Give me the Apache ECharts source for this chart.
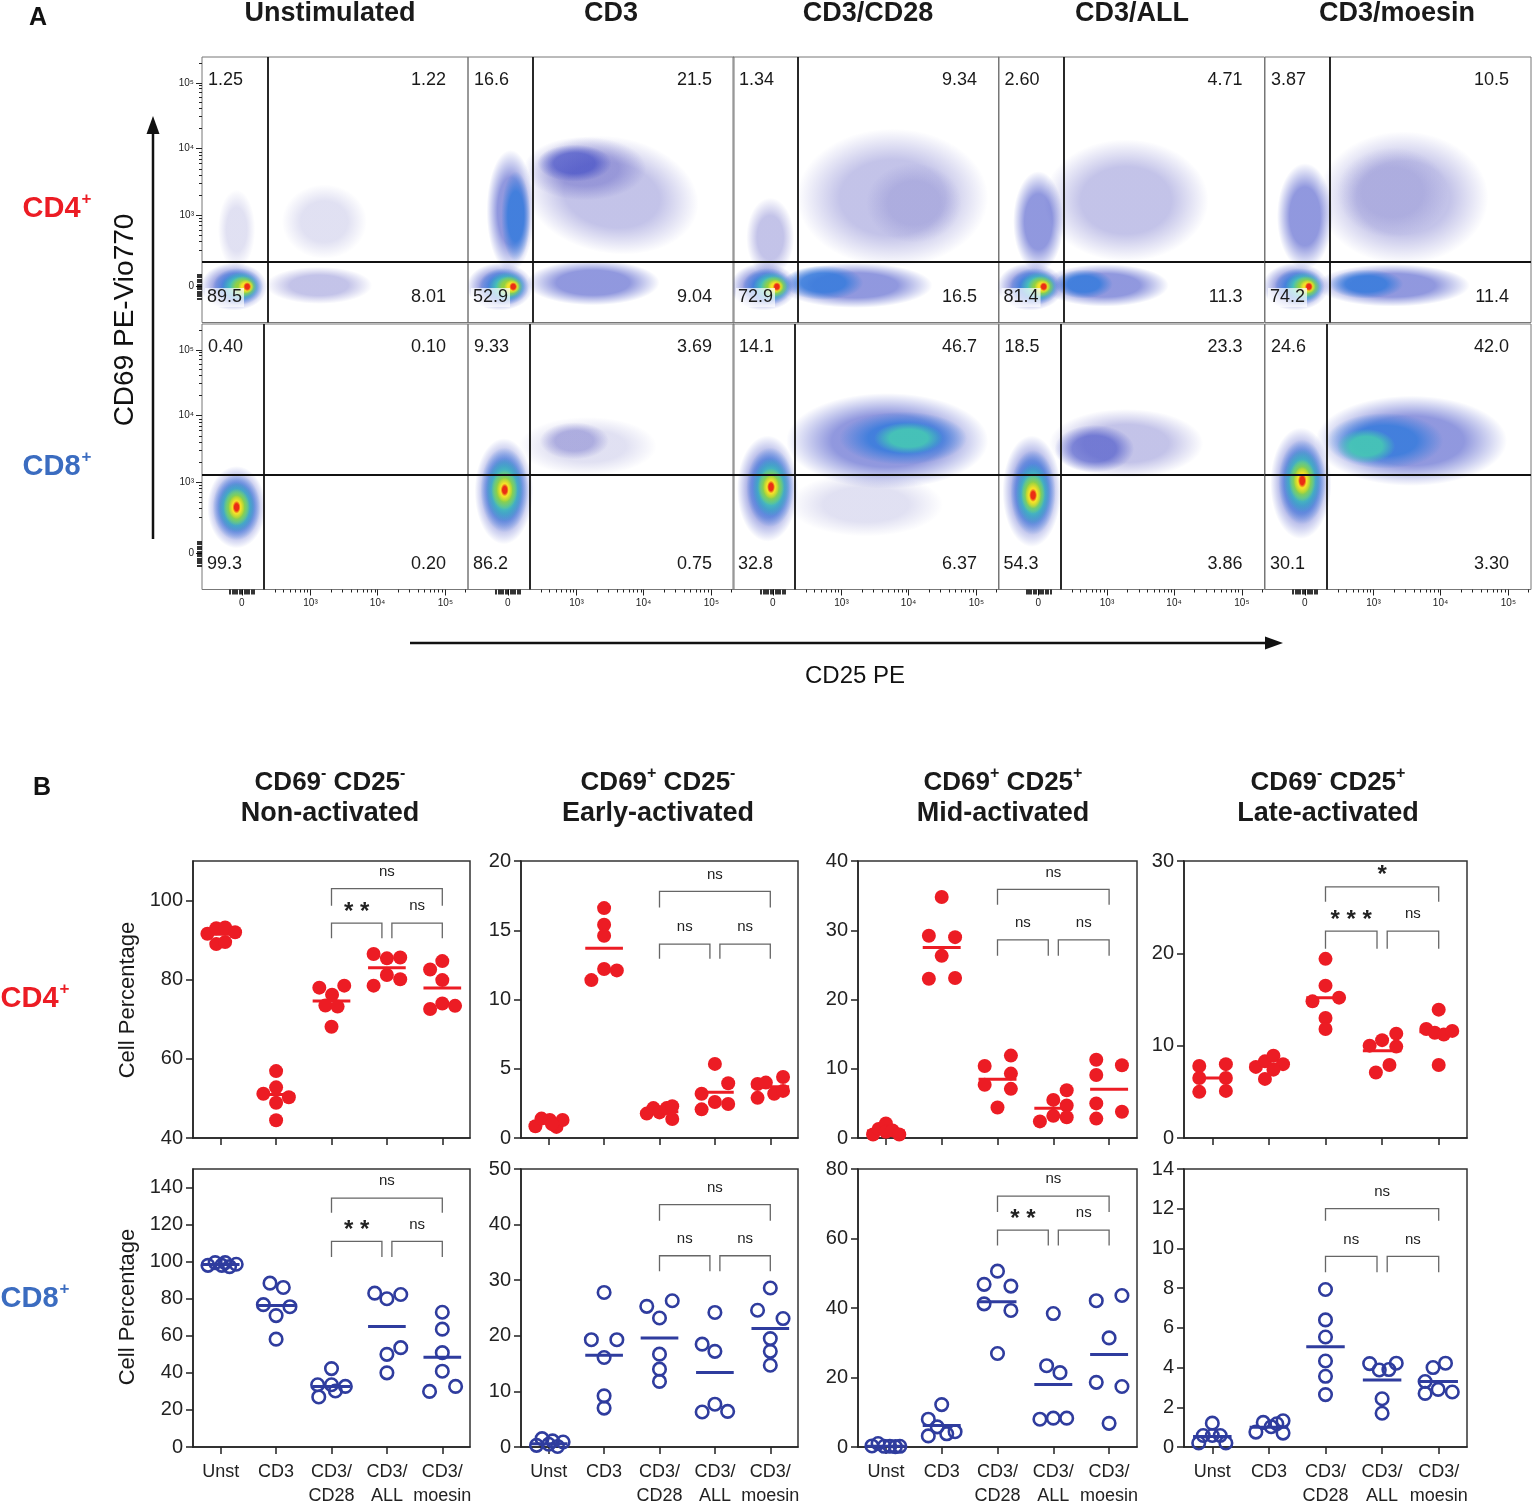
<!DOCTYPE html>
<html>
<head>
<meta charset="utf-8">
<title>CD69 / CD25 activation</title>
<script src="https://cdn.jsdelivr.net/npm/echarts@6.0.0/dist/echarts.min.js"></script>
<style>
html, body { margin: 0; padding: 0; background: #fff; }
#chart { width: 1535px; height: 1512px; }
</style>
</head>
<body>
<div id="chart"></div>
<script>
// ===== A: flow plots, axes in display units 0-100 =====
var stimNames = ['Unstimulated', 'CD3', 'CD3/CD28', 'CD3/ALL', 'CD3/moesin'];
var flowTickLabels = ['0', '10³', '10⁴', '10⁵'];
var flowXTicks = [15, 40.8, 66, 91.5];
var flowYTicks = [13.5, 40.4, 65.6, 90.3];

// quadrant percentages [UL, UR, LL, LR]
var quadCD4 = [['1.25', '1.22', '89.5', '8.01'], ['16.6', '21.5', '52.9', '9.04'], ['1.34', '9.34', '72.9', '16.5'], ['2.60', '4.71', '81.4', '11.3'], ['3.87', '10.5', '74.2', '11.4']];
var quadCD8 = [['0.40', '0.10', '99.3', '0.20'], ['9.33', '3.69', '86.2', '0.75'], ['14.1', '46.7', '32.8', '6.37'], ['18.5', '23.3', '54.3', '3.86'], ['24.6', '42.0', '30.1', '3.30']];

// gate [x, y]
var gateCD4 = [[24.6, 22.7], [24.5, 22.7], [24.4, 22.7], [24.5, 22.7], [24.3, 22.7]];
var gateCD8 = [[23.2, 43.3], [23.4, 43.3], [23.4, 43.3], [23.5, 43.3], [23.1, 43.3]];

// populations: [x, y, rx, ry, density level 0-7, tilt deg]
var popCD4 = [
  [[13, 35, 7, 15, 0, 0], [44, 14, 20, 7, 1, 0], [46, 38, 16, 14, 0, 0],
   [12, 13.5, 12.5, 9, 2, 0], [13.5, 13.5, 9.5, 7, 3, 0], [14.5, 13.5, 7, 5.5, 4, 0], [15.5, 13.5, 5, 4, 5, 0], [16.5, 13.5, 3, 2.6, 6, 0], [17, 13.5, 1.5, 1.7, 7, 0]],
  [[54, 48, 33, 22, 1, -10], [44, 58, 23, 12, 1, 0], [40, 60, 14, 7, 2, 0], [16, 42, 9, 23, 2, 0], [18, 40, 5.5, 17, 3, 0], [47, 15, 25, 8.5, 2, 0],
   [12, 13.5, 12.5, 9, 2, 0], [13.5, 13.5, 9.5, 7, 3, 0], [14.5, 13.5, 7, 5.5, 4, 0], [15.5, 13.5, 5, 4, 5, 0], [16.5, 13.5, 3, 2.6, 6, 0], [17, 13.5, 1.5, 1.7, 7, 0]],
  [[60, 47, 36, 26, 1, 0], [68, 45, 18, 15, 0, 0], [14, 32, 9, 15, 1, 0], [46, 14, 29, 8.5, 2, 0], [34, 15, 15, 6.5, 3, 0],
   [11.5, 13.5, 12.5, 9, 2, 0], [13, 13.5, 9.5, 7, 3, 0], [14.5, 13.5, 7, 5.5, 4, 0], [15.5, 13.5, 5, 4, 5, 0], [16, 13.5, 3, 2.6, 6, 0], [16.5, 13.5, 1.5, 1.7, 7, 0]],
  [[48, 46, 31, 23, 1, 0], [15, 38, 9.5, 19, 2, 0], [40, 14, 24, 8, 2, 0], [32, 14.5, 11, 5.5, 3, 0],
   [12, 13.5, 12.5, 9, 2, 0], [13.5, 13.5, 9.5, 7, 3, 0], [15, 13.5, 7, 5.5, 4, 0], [16, 13.5, 5, 4, 5, 0], [16.5, 13.5, 3, 2.6, 6, 0], [17, 13.5, 1.5, 1.7, 7, 0]],
  [[52, 47, 32, 25, 1, 0], [48, 49, 21, 17, 0, 0], [15, 40, 10.5, 20, 2, 0], [48, 14, 29, 8, 2, 0], [38, 14.5, 14, 5.5, 3, 0],
   [11.5, 13.5, 12.5, 9, 2, 0], [13, 13.5, 9.5, 7, 3, 0], [14.5, 13.5, 7, 5.5, 4, 0], [15.5, 13.5, 5, 4, 5, 0], [16, 13.5, 3, 2.6, 6, 0], [16.5, 13.5, 1.5, 1.7, 7, 0]]
];
var popCD8 = [
  [[13, 31, 11, 15.5, 2, 0], [13, 31, 9, 12.5, 3, 0], [13, 31, 7, 9.5, 4, 0], [13, 31, 5, 7, 5, 0], [13, 31, 3, 4.5, 6, 0], [13, 31, 1.5, 2.4, 7, 0]],
  [[45, 54, 26, 11, 0, 0], [40, 56, 13, 7, 1, 0],
   [13.5, 37, 11, 20, 2, 0], [13.7, 37.5, 9, 16, 3, 0], [13.7, 37.5, 7, 12, 4, 0], [13.7, 37.5, 5, 7.5, 5, 0], [13.8, 37.5, 3, 4.6, 6, 0], [13.8, 37.5, 1.5, 2.4, 7, 0]],
  [[50, 32, 29, 12, 0, 0], [58, 56, 38, 18, 2, 0], [64, 57, 24, 10, 3, 0], [66, 57, 13, 6, 4, 0],
   [13, 38, 11.5, 20, 2, 0], [14, 38.5, 9, 15, 3, 0], [14.3, 38.5, 7, 11, 4, 0], [14.3, 38.6, 5, 7, 5, 0], [14.3, 38.6, 3, 4.5, 6, 0], [14.3, 38.6, 1.5, 2.4, 7, 0]],
  [[48, 55, 29, 13, 1, 0], [36, 53, 15, 9, 2, 0],
   [12.5, 37, 11, 21, 2, 0], [13, 36.5, 8.5, 16, 3, 0], [13, 36, 6.5, 11.5, 4, 0], [13, 36, 4.5, 7.5, 5, 0], [13, 35.5, 3, 5, 6, 0], [13, 35.5, 1.5, 2.5, 7, 0]],
  [[55, 56, 36, 17, 2, 0], [45, 56, 22, 10.5, 3, 0], [38, 54, 11, 6.5, 4, 0],
   [13.5, 40, 11.5, 21, 2, 0], [14, 40.5, 9, 16, 3, 0], [14, 41, 7, 12, 4, 0], [14, 41, 5, 8, 5, 0], [14, 41, 3.2, 5.2, 6, 0], [14, 41, 1.6, 2.7, 7, 0]]
];

// ===== B: dot plots =====
var groupNames = ['Unst', 'CD3', 'CD3/\nCD28', 'CD3/\nALL', 'CD3/\nmoesin'];

var nonActCD4 = [[91.6, 93.0, 93.2, 92.0, 89.0, 89.5], [56.9, 52.8, 51.2, 50.3, 48.9, 44.5], [78.0, 78.5, 76.2, 73.5, 73.2, 68.1], [86.5, 85.4, 85.6, 78.5, 81.2, 80.1], [82.6, 84.7, 79.9, 72.6, 74.0, 73.4]];
var nonActCD4Jit = [[-0.24, -0.08, 0.08, 0.26, -0.08, 0.08], [0, 0, -0.23, 0.23, 0, 0], [-0.22, 0.23, 0.01, -0.11, 0.11, 0], [-0.24, 0, 0.24, -0.24, 0, 0.24], [-0.22, 0, 0, -0.22, 0, 0.23]];
var nonActCD4Med = [91.5, 51.0, 74.6, 83.0, 77.9];

var nonActCD8 = [[98.0, 99.5, 98.0, 99.5, 97.3, 98.6], [88.4, 86.1, 76.8, 75.7, 70.9, 58.2], [42.3, 33.6, 33.6, 32.7, 27.0, 30.2], [83.0, 80.0, 82.3, 50.0, 53.6, 40.0], [72.7, 63.6, 50.9, 40.9, 30.0, 32.7]];
var nonActCD8Jit = [[-0.23, -0.1, 0.02, 0.08, 0.16, 0.28], [-0.11, 0.13, -0.23, 0.25, 0, 0], [0, -0.25, 0, 0.25, -0.23, 0.07], [-0.22, 0, 0.25, 0, 0.25, 0], [0, 0, 0, 0, -0.23, 0.24]];
var nonActCD8Med = [98.5, 76.4, 32.7, 65.0, 48.4];

var earlyCD4 = [[0.85, 1.4, 1.3, 0.8, 1.3, 1.0], [16.6, 15.4, 14.6, 11.4, 12.2, 12.1], [1.76, 2.16, 1.85, 2.16, 2.3, 1.37], [5.35, 3.2, 3.95, 2.6, 2.07, 2.46], [3.9, 4.0, 4.4, 2.9, 3.2, 3.4]];
var earlyCD4Jit = [[-0.24, -0.13, 0.02, 0.14, 0.25, 0.06], [0, 0, 0, -0.23, 0, 0.23], [-0.23, -0.11, 0, 0.13, 0.23, 0.23], [0, -0.24, 0.24, 0, -0.24, 0.24], [-0.23, -0.08, 0.23, -0.23, 0.07, 0.23]];
var earlyCD4Med = [1.1, 13.7, 1.9, 3.3, 3.7];

var earlyCD8 = [[0.3, 1.5, 0.5, 1.1, 0.1, 0.9], [27.8, 19.3, 19.3, 16.1, 9.2, 7.0], [25.3, 26.3, 23.2, 16.7, 14.0, 11.8], [24.2, 18.5, 17.2, 6.3, 7.7, 6.4], [28.6, 24.6, 23.1, 19.5, 17.2, 14.7]];
var earlyCD8Jit = [[-0.22, -0.12, 0, 0.07, 0.16, 0.26], [0, -0.23, 0.23, 0, 0, 0], [-0.23, 0.23, 0, 0, 0, 0], [0, -0.23, 0, -0.23, 0, 0.23], [0, -0.23, 0.23, 0, 0, 0]];
var earlyCD8Med = [0.6, 16.5, 19.6, 13.4, 21.3];

var midCD4 = [[0.5, 1.3, 2.1, 0.9, 1.1, 0.5], [34.8, 29.2, 29.0, 26.3, 23.0, 23.1], [10.4, 11.9, 9.3, 7.7, 7.1, 4.4], [6.9, 5.5, 4.7, 3.2, 3.0, 2.4], [11.3, 10.5, 9.1, 5.0, 3.8, 2.8]];
var midCD4Jit = [[-0.23, -0.13, 0, 0, 0.12, 0.24], [0, -0.23, 0.24, 0, -0.23, 0.24], [-0.23, 0.24, 0.24, -0.23, 0.24, 0], [0.24, 0, 0.24, 0, 0.24, -0.24], [-0.23, 0.23, -0.23, -0.23, 0.23, -0.23]];
var midCD4Med = [1.0, 27.5, 8.5, 4.3, 7.05];

var midCD8 = [[0.3, 1.0, 0.2, 0.2, 0.1, 0.2], [12.2, 8.0, 5.8, 3.8, 3.2, 4.4], [50.6, 46.8, 46.3, 41.2, 39.3, 26.9], [38.4, 23.4, 21.4, 8.0, 8.3, 8.3], [42.1, 43.6, 31.4, 18.6, 17.4, 6.8]];
var midCD8Jit = [[-0.25, -0.14, -0.03, 0.07, 0.17, 0.25], [0, -0.24, -0.08, 0.09, -0.24, 0.24], [0, -0.24, 0.24, -0.24, 0.24, 0], [0, -0.12, 0.12, -0.24, 0, 0.24], [-0.23, 0.23, 0, -0.23, 0.23, 0]];
var midCD8Med = [0.2, 6.2, 41.8, 18.0, 26.6];

var lateCD4 = [[7.8, 8.0, 6.5, 6.5, 5.0, 5.1], [7.7, 8.3, 8.9, 8.0, 7.4, 6.4], [19.4, 16.5, 14.8, 15.2, 13.0, 11.8], [10.0, 10.6, 11.3, 9.9, 7.9, 7.1], [13.9, 11.8, 11.4, 11.2, 11.6, 7.9]];
var lateCD4Jit = [[-0.23, 0.24, -0.23, 0.24, -0.23, 0.24], [-0.23, -0.07, 0.08, 0.25, 0.08, -0.07], [0, 0, -0.23, 0.24, 0, 0], [-0.22, 0, 0.25, 0.25, 0.13, -0.11], [0, -0.22, -0.07, 0.09, 0.24, 0]];
var lateCD4Med = [6.5, 8.0, 15.2, 9.45, 11.5];

var lateCD8 = [[1.2, 0.58, 0.58, 0.58, 0.2, 0.2], [0.75, 1.24, 1.02, 1.17, 1.32, 0.7], [7.93, 6.4, 5.54, 4.33, 3.56, 2.64], [4.2, 3.88, 3.9, 4.22, 2.43, 1.7], [3.3, 4.0, 4.22, 2.7, 2.9, 2.77]];
var lateCD8Jit = [[0, -0.16, 0, 0.14, -0.24, 0.24], [-0.23, -0.1, 0.04, 0.14, 0.25, 0.25], [0, 0, 0, 0, 0, 0], [-0.22, -0.05, 0.12, 0.25, 0, 0], [-0.24, -0.1, 0.12, -0.24, -0.01, 0.24]];
var lateCD8Med = [0.53, 1.0, 5.05, 3.37, 3.3];

// brackets [top, top leg end, lower, lower leg end] and their labels [CD28-moesin, CD28-ALL, ALL-moesin]
var nonActCD4Br = [103.0, 98.7, 94.3, 90.5], nonActCD4Sig = ['ns', '**', 'ns'];
var nonActCD8Br = [134.3, 126.4, 110.9, 102.5], nonActCD8Sig = ['ns', '**', 'ns'];
var earlyCD4Br = [17.8, 16.65, 14.0, 12.95], earlyCD4Sig = ['ns', 'ns', 'ns'];
var earlyCD8Br = [43.6, 40.7, 34.4, 31.6], earlyCD8Sig = ['ns', 'ns', 'ns'];
var midCD4Br = [35.9, 33.7, 28.6, 26.3], midCD4Sig = ['ns', 'ns', 'ns'];
var midCD8Br = [72.2, 67.6, 62.4, 58.0], midCD8Sig = ['ns', '**', 'ns'];
var lateCD4Br = [27.2, 25.6, 22.4, 20.5], lateCD4Sig = ['*', '***', 'ns'];
var lateCD8Br = [12.0, 11.4, 9.6, 8.8], lateCD8Sig = ['ns', 'ns', 'ns'];

var panelTitles = [['CD69', '-', 'CD25', '-', 'Non-activated'], ['CD69', '+', 'CD25', '-', 'Early-activated'],
                   ['CD69', '+', 'CD25', '+', 'Mid-activated'], ['CD69', '-', 'CD25', '+', 'Late-activated']];

// ===== build =====
var RED = '#ec1c24', BLUE = '#2f3c9e';
var FONT = 'Liberation Sans, Arial, sans-serif';
var grids = [], xAxes = [], yAxes = [], series = [], graphics = [];

var levelRGBA = [
  [40, 40, 165, 0.14], [40, 40, 175, 0.28], [35, 50, 190, 0.5], [45, 120, 220, 0.78],
  [70, 200, 180, 0.9], [150, 210, 60, 0.95], [245, 225, 40, 1], [235, 45, 20, 1]
];
function rgba(c, a) { return 'rgba(' + c[0] + ',' + c[1] + ',' + c[2] + ',' + a + ')'; }

function renderBlob(params, api) {
  var c = api.coord([api.value(0), api.value(1)]);
  var s = api.size([api.value(2), api.value(3)]);
  var lv = levelRGBA[api.value(4)];
  var rot = (api.value(5) || 0) * Math.PI / 180;
  return {
    type: 'circle', x: c[0], y: c[1], rotation: rot, scaleX: s[0] / s[1],
    shape: { cx: 0, cy: 0, r: s[1] },
    style: { fill: { type: 'radial', x: 0.5, y: 0.5, r: 0.5, colorStops: [
      { offset: 0, color: rgba(lv, lv[3]) }, { offset: 0.55, color: rgba(lv, lv[3]) }, { offset: 1, color: rgba(lv, 0) }] } }
  };
}

function log10(v) { return Math.log(v) / Math.LN10; }
function minorTicks(major) {
  var out = [], step = (major[3] - major[1]) / 2;
  for (var k = 2; k <= 9; k++) {
    out.push(major[1] + step * log10(k), major[2] + step * log10(k));
    if (major[3] + step * log10(k) < 100) out.push(major[3] + step * log10(k));
    if (k >= 3) out.push(major[1] - step * (1 - log10(k)));
  }
  return out;
}
function zeroTicks(zero) {
  var out = [];
  for (var d = -4.5; d <= 4.5; d += 0.9) out.push(zero + d);
  return out;
}

function addText(x, y, text, font, color, align, extra) {
  var el = { type: 'text', x: x, y: y, silent: true, z: 100, style: { text: text, font: font, fill: color || '#111',
    textAlign: align || 'center', align: align || 'center', textVerticalAlign: 'middle', verticalAlign: 'middle' } };
  if (extra) for (var k in extra) el.style[k] = extra[k];
  graphics.push(el);
  return el;
}

// ----- panel A layout -----
var flowLeft = [202, 468, 733, 998.5, 1265], flowW = 266;
var flowTop = [57, 324], flowH = 265.5;

function flowPanel(row, col, pops, gate, quad) {
  var gi = grids.length;
  var box = { l: flowLeft[col], t: flowTop[row], w: flowW, h: flowH };
  grids.push({ left: box.l, top: box.t, width: box.w, height: box.h, show: true, borderColor: '#777', borderWidth: 1 });
  var fmt = function (ticks) { return function (v) { return flowTickLabels[ticks.indexOf(v)]; }; };
  var xi = xAxes.length;
  xAxes.push({ gridIndex: gi, type: 'value', min: 0, max: 100, position: 'bottom', show: row === 1,
    axisLine: { show: false, onZero: false }, splitLine: { show: false },
    axisTick: { show: true, customValues: flowXTicks, length: 6, lineStyle: { color: '#222', width: 1 } },
    axisLabel: { customValues: flowXTicks, formatter: fmt(flowXTicks), fontSize: 10, color: '#222', margin: 9, fontFamily: FONT } });
  if (row === 1) {
    xAxes.push({ gridIndex: gi, type: 'value', min: 0, max: 100, position: 'bottom', axisLine: { show: false, onZero: false }, splitLine: { show: false },
      axisLabel: { show: false }, axisTick: { customValues: minorTicks(flowXTicks), length: 3, lineStyle: { color: '#222' } } });
    xAxes.push({ gridIndex: gi, type: 'value', min: 0, max: 100, position: 'bottom', axisLine: { show: false, onZero: false }, splitLine: { show: false },
      axisLabel: { show: false }, axisTick: { customValues: zeroTicks(flowXTicks[0]), length: 5, lineStyle: { color: '#000', width: 1.6 } } });
  }
  var yi = yAxes.length;
  yAxes.push({ gridIndex: gi, type: 'value', min: 0, max: 100, position: 'left', show: col === 0,
    axisLine: { show: false, onZero: false }, splitLine: { show: false },
    axisTick: { show: true, customValues: flowYTicks, length: 6, lineStyle: { color: '#222', width: 1 } },
    axisLabel: { customValues: flowYTicks, formatter: fmt(flowYTicks), fontSize: 10, color: '#222', margin: 8, fontFamily: FONT } });
  if (col === 0) {
    yAxes.push({ gridIndex: gi, type: 'value', min: 0, max: 100, position: 'left', axisLine: { show: false, onZero: false }, splitLine: { show: false },
      axisLabel: { show: false }, axisTick: { customValues: minorTicks(flowYTicks), length: 3, lineStyle: { color: '#222' } } });
    yAxes.push({ gridIndex: gi, type: 'value', min: 0, max: 100, position: 'left', axisLine: { show: false, onZero: false }, splitLine: { show: false },
      axisLabel: { show: false }, axisTick: { customValues: zeroTicks(flowYTicks[0]), length: 5, lineStyle: { color: '#000', width: 1.6 } } });
  }
  series.push({ type: 'custom', xAxisIndex: xi, yAxisIndex: yi, clip: true, silent: true,
    encode: { x: 0, y: 1 }, renderItem: renderBlob, data: pops });
  series.push({ type: 'line', xAxisIndex: xi, yAxisIndex: yi, data: [], silent: true, symbol: 'none',
    markLine: { silent: true, symbol: ['none', 'none'], animation: false, label: { show: false },
      lineStyle: { color: '#111', width: 1.8, type: 'solid' }, data: [{ xAxis: gate[0] }, { yAxis: gate[1] }] } });
  var qf = '18px ' + FONT;
  addText(box.l + 6, box.t + 23, quad[0], qf, '#1a1a1a', 'left');
  addText(box.l + box.w - 22, box.t + 23, quad[1], qf, '#1a1a1a', 'right');
  addText(box.l + 3, box.t + box.h - 25, quad[2], qf, '#1a1a1a', 'left',
    { backgroundColor: 'rgba(255,255,255,0.7)', padding: [1, 2, 0, 2] });
  addText(box.l + box.w - 22, box.t + box.h - 25, quad[3], qf, '#1a1a1a', 'right');
}

for (var c = 0; c < 5; c++) {
  flowPanel(0, c, popCD4[c], gateCD4[c], quadCD4[c]);
  flowPanel(1, c, popCD8[c], gateCD8[c], quadCD8[c]);
}

// ----- panel B layout -----
var dotLeft = [193, 521, 858, 1184], dotW = [277, 277, 279, 283];
var dotTop = [861, 1169], dotH = [277, 278];

var dotPlots = [
  { row: 0, col: 0, vals: nonActCD4, jit: nonActCD4Jit, med: nonActCD4Med, br: nonActCD4Br, sig: nonActCD4Sig, min: 40, max: 110, ticks: [40, 60, 80, 100] },
  { row: 1, col: 0, vals: nonActCD8, jit: nonActCD8Jit, med: nonActCD8Med, br: nonActCD8Br, sig: nonActCD8Sig, min: 0, max: 150, ticks: [0, 20, 40, 60, 80, 100, 120, 140] },
  { row: 0, col: 1, vals: earlyCD4, jit: earlyCD4Jit, med: earlyCD4Med, br: earlyCD4Br, sig: earlyCD4Sig, min: 0, max: 20, ticks: [0, 5, 10, 15, 20] },
  { row: 1, col: 1, vals: earlyCD8, jit: earlyCD8Jit, med: earlyCD8Med, br: earlyCD8Br, sig: earlyCD8Sig, min: 0, max: 50, ticks: [0, 10, 20, 30, 40, 50] },
  { row: 0, col: 2, vals: midCD4, jit: midCD4Jit, med: midCD4Med, br: midCD4Br, sig: midCD4Sig, min: 0, max: 40, ticks: [0, 10, 20, 30, 40] },
  { row: 1, col: 2, vals: midCD8, jit: midCD8Jit, med: midCD8Med, br: midCD8Br, sig: midCD8Sig, min: 0, max: 80, ticks: [0, 20, 40, 60, 80] },
  { row: 0, col: 3, vals: lateCD4, jit: lateCD4Jit, med: lateCD4Med, br: lateCD4Br, sig: lateCD4Sig, min: 0, max: 30, ticks: [0, 10, 20, 30] },
  { row: 1, col: 3, vals: lateCD8, jit: lateCD8Jit, med: lateCD8Med, br: lateCD8Br, sig: lateCD8Sig, min: 0, max: 14, ticks: [0, 2, 4, 6, 8, 10, 12, 14] }
];

function medianRenderer(color) {
  return function (params, api) {
    var a = api.coord([api.value(0) - 0.34, api.value(1)]);
    var b = api.coord([api.value(0) + 0.34, api.value(1)]);
    return { type: 'line', shape: { x1: a[0], y1: a[1], x2: b[0], y2: b[1] }, style: { stroke: color, lineWidth: 3 } };
  };
}
function bracketRenderer(labels) {
  return function (params, api) {
    var x1 = api.value(0), x2 = api.value(1), yb = api.value(2), yl = api.value(3);
    var p1 = api.coord([x1, yl]), p2 = api.coord([x1, yb]), p3 = api.coord([x2, yb]), p4 = api.coord([x2, yl]);
    var lbl = labels[params.dataIndex];
    var star = lbl.indexOf('*') >= 0;
    return { type: 'group', children: [
      { type: 'polyline', shape: { points: [p1, p2, p3, p4] }, style: { stroke: '#666', lineWidth: 1.3, fill: null } },
      { type: 'text', x: (p2[0] + p3[0]) / 2, y: p2[1] - (star ? 11 : 17),
        style: { text: star ? lbl.split('').join(' ') : lbl, font: (star ? 'bold 24px ' : '15px ') + FONT, fill: '#222',
          textAlign: 'center', align: 'center', textVerticalAlign: 'middle', verticalAlign: 'middle' } }
    ] };
  };
}

dotPlots.forEach(function (p) {
  var gi = grids.length;
  grids.push({ left: dotLeft[p.col], top: dotTop[p.row], width: dotW[p.col], height: dotH[p.row], show: true, borderColor: '#333', borderWidth: 1.5 });
  var xi = xAxes.length, yi = yAxes.length;
  xAxes.push({ gridIndex: gi, type: 'value', min: -0.5, max: 4.5, position: 'bottom',
    axisLine: { show: true, onZero: false, lineStyle: { color: '#222', width: 1.5 } }, splitLine: { show: false },
    axisTick: { show: true, customValues: [0, 1, 2, 3, 4], length: 7, lineStyle: { color: '#222', width: 1.5 } },
    axisLabel: { show: p.row === 1, customValues: [0, 1, 2, 3, 4], formatter: function (v) { return groupNames[Math.round(v)]; },
      fontSize: 18, lineHeight: 24, color: '#222', margin: 13, fontFamily: FONT } });
  yAxes.push({ gridIndex: gi, type: 'value', min: p.min, max: p.max, position: 'left',
    axisLine: { show: true, onZero: false, lineStyle: { color: '#222', width: 1.5 } }, splitLine: { show: false },
    axisTick: { show: true, customValues: p.ticks, length: 7, lineStyle: { color: '#222', width: 1.5 } },
    axisLabel: { customValues: p.ticks, fontSize: 20, color: '#222', margin: 10, fontFamily: FONT } });
  var pts = [];
  p.vals.forEach(function (g, gi2) { g.forEach(function (v, k) { pts.push([gi2 + p.jit[gi2][k], v]); }); });
  var col = p.row === 0 ? RED : BLUE;
  series.push({ type: 'scatter', xAxisIndex: xi, yAxisIndex: yi, data: pts, symbol: 'circle', symbolSize: p.row === 0 ? 14 : 12.5, silent: true,
    itemStyle: p.row === 0 ? { color: RED, opacity: 1 } : { color: 'rgba(0,0,0,0)', borderColor: BLUE, borderWidth: 2.6, opacity: 1 } });
  series.push({ type: 'custom', xAxisIndex: xi, yAxisIndex: yi, silent: true, z: 5, encode: { x: 0, y: 1 },
    renderItem: medianRenderer(col), data: p.med.map(function (m, i) { return [i, m]; }) });
  series.push({ type: 'custom', xAxisIndex: xi, yAxisIndex: yi, silent: true, z: 5, encode: { x: 0, y: 2 },
    renderItem: bracketRenderer(p.sig),
    data: [[2, 4, p.br[0], p.br[1]], [2, 2.91, p.br[2], p.br[3]], [3.09, 4, p.br[2], p.br[3]]] });
});

// ----- texts -----
var bold = function (s) { return 'bold ' + s + 'px ' + FONT; };
addText(38, 18, 'A', bold(25), '#111');
addText(42, 788, 'B', bold(25), '#111');
var stimX = [330, 611, 868, 1132, 1397];
stimNames.forEach(function (s, i) { addText(stimX[i], 14, s, bold(27), '#1a1a1a'); });

function supLabel(x, y, base, sup, color, size) {
  graphics.push({ type: 'text', x: x, y: y, silent: true, z: 100, style: {
    text: '{a|' + base + '}{s|' + sup + '}', textAlign: 'center', align: 'center', textVerticalAlign: 'middle', verticalAlign: 'middle',
    rich: { a: { font: bold(size), fill: color, lineHeight: size + 4, verticalAlign: 'bottom' },
            s: { font: bold(Math.round(size * 0.6)), fill: color, lineHeight: size + 4, verticalAlign: 'top', padding: [0, 0, 0, 1] } } } });
}
supLabel(57, 207, 'CD4', '+', RED, 29);
supLabel(57, 465, 'CD8', '+', '#3b6cc0', 29);
supLabel(35, 997, 'CD4', '+', RED, 29);
supLabel(35, 1297, 'CD8', '+', '#3b6cc0', 29);

addText(125, 320, 'CD69 PE-Vio770', '28px ' + FONT, '#111').rotation = Math.PI / 2;
addText(855, 676, 'CD25 PE', '24px ' + FONT, '#111');
graphics.push({ type: 'line', silent: true, shape: { x1: 153, y1: 539, x2: 153, y2: 130 }, style: { stroke: '#111', lineWidth: 2.5 } });
graphics.push({ type: 'polygon', silent: true, shape: { points: [[153, 116], [146.5, 134], [159.5, 134]] }, style: { fill: '#111' } });
graphics.push({ type: 'line', silent: true, shape: { x1: 410, y1: 643, x2: 1268, y2: 643 }, style: { stroke: '#111', lineWidth: 2.5 } });
graphics.push({ type: 'polygon', silent: true, shape: { points: [[1283, 643], [1265, 636.5], [1265, 649.5]] }, style: { fill: '#111' } });

var titleX = [330, 658, 1003, 1328];
panelTitles.forEach(function (t, i) {
  graphics.push({ type: 'text', x: titleX[i], y: 781, silent: true, z: 100, style: {
    text: '{a|' + t[0] + '}{s|' + t[1] + '}{a| ' + t[2] + '}{s|' + t[3] + '}', textAlign: 'center', align: 'center', textVerticalAlign: 'middle', verticalAlign: 'middle',
    rich: { a: { font: bold(26), fill: '#1a1a1a', lineHeight: 30, verticalAlign: 'bottom' },
            s: { font: bold(16), fill: '#1a1a1a', lineHeight: 30, verticalAlign: 'top' } } } });
  addText(titleX[i], 814, t[4], bold(27), '#1a1a1a');
});
addText(128, 1000, 'Cell Percentage', '22px ' + FONT, '#1a1a1a').rotation = Math.PI / 2;
addText(128, 1307, 'Cell Percentage', '22px ' + FONT, '#1a1a1a').rotation = Math.PI / 2;

var chart = echarts.init(document.getElementById('chart'));
chart.setOption({
  animation: false,
  backgroundColor: '#fff',
  grid: grids,
  xAxis: xAxes,
  yAxis: yAxes,
  series: series,
  graphic: { elements: graphics }
});
</script>
</body>
</html>
